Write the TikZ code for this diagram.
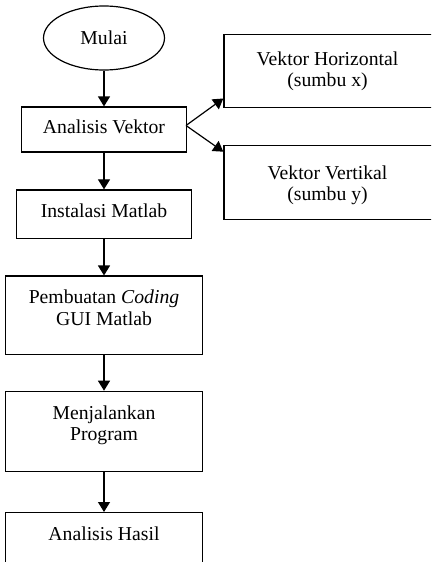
\documentclass[tikz,border=0pt]{standalone}
\usepackage{fontspec}
\setmainfont{Liberation Serif}
\usetikzlibrary{arrows.meta,shapes.geometric}
\begin{document}
\begin{tikzpicture}[x=1pt,y=-1pt,
  every node/.style={font=\fontsize{19.7}{21.5}\selectfont},
  boxshape/.style={draw,line width=1.2pt,rectangle,inner sep=0pt},
  txt/.style={anchor=base,inner sep=0pt,align=center},
  arr/.style={line width=1.2pt,-{Triangle[length=10pt,width=12pt]}}]
\useasboundingbox (0,0) rectangle (431,562);
\clip (0,0) rectangle (431,562);
% start
\node[draw,ellipse,line width=1.2pt,minimum width=121pt,minimum height=64pt,inner sep=0pt] (mulai) at (104,38) {};
\node[txt] (tmulai) at (104,44.5) {Mulai};
% Analisis Vektor
\node[boxshape,minimum width=165pt,minimum height=45pt] (av) at (104,129.5) {};
\node[txt] (tav) at (104,133.5) {Analisis Vektor};
% right boxes (extend past right edge)
\node[boxshape,minimum width=215pt,minimum height=73pt,anchor=north west] (vh) at (223.3,34) {};
\node[txt] (tvh1) at (327.5,65) {Vektor Horizontal};
\node[txt] (tvh2) at (327.5,86.5) {(sumbu x)};
\node[boxshape,minimum width=215pt,minimum height=74pt,anchor=north west] (vv) at (223.3,145) {};
\node[txt] (tvv1) at (327.5,179) {Vektor Vertikal};
\node[txt] (tvv2) at (327.5,200.5) {(sumbu y)};
% Instalasi Matlab
\node[boxshape,minimum width=175pt,minimum height=48.5pt] (im) at (104,214.2) {};
\node[txt] (tim) at (104,217.5) {Instalasi Matlab};
% Pembuatan Coding
\node[boxshape,minimum width=196.6pt,minimum height=78.7pt] (pc) at (104,315.4) {};
\node[txt] (tpc1) at (104,303.5) {Pembuatan \textit{Coding}};
\node[txt] (tpc2) at (104,325.5) {GUI Matlab};
% Menjalankan Program
\node[boxshape,minimum width=196.6pt,minimum height=80pt] (mp) at (104,431.3) {};
\node[txt] (tmp1) at (104,419) {Menjalankan};
\node[txt] (tmp2) at (104,440.5) {Program};
% Analisis Hasil (extends past bottom edge)
\node[boxshape,minimum width=196.6pt,minimum height=80pt,anchor=north] (ah) at (104,512) {};
\node[txt] (tah) at (104,540) {Analisis Hasil};
% connectors
\coordinate (avr) at (186,125.5);
\draw[arr] (mulai.south) -- (av.north);
\draw[arr] (avr) -- (vh.south west |- 0,98.5);
\draw[arr] (avr) -- (vv.north west |- 0,151.7);
\draw[arr] (av.south) -- (im.north);
\draw[arr] (im.south) -- (pc.north);
\draw[arr] (pc.south) -- (mp.north);
\draw[arr] (mp.south) -- (ah.north);
\end{tikzpicture}
\end{document}
